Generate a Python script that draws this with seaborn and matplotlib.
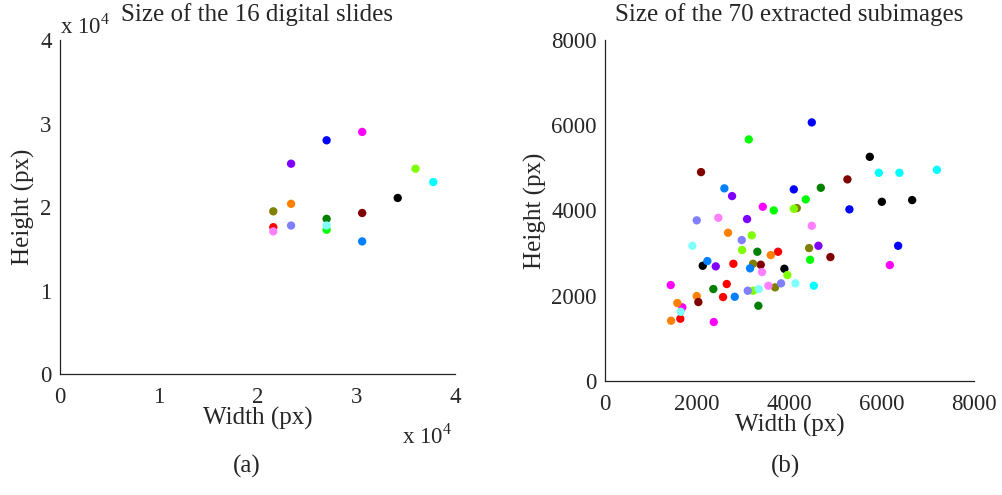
import matplotlib
matplotlib.use("Agg")
import matplotlib.pyplot as plt
from matplotlib.ticker import FuncFormatter
import pandas as pd
import seaborn as sns

# One colour per digital slide (slide ids 1..16)
slide_colors = ["#ff0000", "#0000ff", "#00ff00", "#000000", "#ff00ff", "#00ffff",
                "#ff8000", "#8000ff", "#008000", "#800000", "#808000", "#80ff00",
                "#0080ff", "#ff80ff", "#8080ff", "#80ffff"]
slide_ids = list(range(1, 17))

# Whole-slide dimensions (px)
slide_w = [21600, 27000, 27000, 34200, 30600, 37800, 23400, 23400,
           27000, 30600, 21600, 36000, 30600, 21600, 23400, 27000]
slide_h = [17600, 28000, 17300, 21100, 29000, 23000, 20400, 25200,
           18600, 19300, 19500, 24600, 15900, 17100, 17800, 17800]

# Extracted subimages: source slide, width, height (px)
sub_slide = [1, 1, 1, 1, 1,
             2, 2, 2, 2,
             3, 3, 3, 3,
             4, 4, 4, 4, 4,
             5, 5, 5, 5, 5,
             6, 6, 6, 6,
             7, 7, 7, 7, 7,
             8, 8, 8, 8,
             9, 9, 9, 9,
             10, 10, 10, 10, 10,
             11, 11, 11, 11,
             12, 12, 12, 12, 12,
             13, 13, 13, 13,
             14, 14, 14, 14,
             15, 15, 15, 15,
             16, 16, 16, 16]
sub_w = [3752, 2783, 2640, 2559, 1633,
         4093, 4483, 5299, 6355,
         3117, 3659, 4353, 4446,
         5741, 6002, 6659, 3889, 2119,
         3421, 6175, 1425, 1677, 2358,
         5937, 6383, 7195, 4527,
         2668, 3594, 1989, 1568, 1432,
         2755, 3080, 4627, 2401,
         4679, 3303, 2349, 3325,
         2082, 5256, 4887, 3377, 2024,
         4158, 4425, 3210, 3687,
         4093, 3954, 3182, 2972, 3210,
         2588, 2219, 3145, 2813,
         2457, 4483, 3405, 3542,
         1989, 3817, 2965, 3095,
         4128, 1894, 3334, 1642]
sub_h = [3028, 2746, 2270, 1964, 1455,
         4492, 6065, 4023, 3168,
         5666, 3999, 4257, 2840,
         5257, 4201, 4241, 2629, 2699,
         4084, 2715, 2246, 1723, 1378,
         4882, 4882, 4952, 2230,
         3474, 2950, 1988, 1824, 1408,
         4335, 3795, 3168, 2685,
         4530, 3028, 2152, 1760,
         4898, 4727, 2903, 2723, 1847,
         4053, 3114, 2746, 2192,
         4037, 2481, 3413, 3068, 2112,
         4516, 2809, 2638, 1971,
         3826, 3638, 2551, 2230,
         3765, 2286, 3302, 2112,
         2286, 3168, 2152, 1619]

slides = pd.DataFrame({"slide": slide_ids, "w": slide_w, "h": slide_h})
subs = pd.DataFrame({"slide": sub_slide, "w": sub_w, "h": sub_h})
palette = dict(zip(slide_ids, slide_colors))

sns.set_style("white")
plt.rcParams["font.family"] = ["Liberation Serif", "DejaVu Serif"]
plt.rcParams["mathtext.fontset"] = "custom"
plt.rcParams["mathtext.rm"] = "Liberation Serif"

W, H = 1003, 495
fig = plt.figure(figsize=(W / 100, H / 100), dpi=100)


def box(l, t, r, b):
    return [l / W, 1 - b / H, (r - l) / W, (b - t) / H]


ax1 = fig.add_axes(box(60, 40, 455, 374.3))
ax2 = fig.add_axes(box(605, 40, 974, 380.7))

TICK_FS = 16.5
LABEL_FS = 18
dot = 36

sns.scatterplot(data=slides, x="w", y="h", hue="slide", palette=palette,
                legend=False, s=dot, linewidth=0, ax=ax1)
sns.scatterplot(data=subs, x="w", y="h", hue="slide", palette=palette,
                legend=False, s=dot, linewidth=0, ax=ax2)

ax1.set_xlim(0, 40000)
ax1.set_ylim(0, 40000)
ax1.set_xticks([0, 10000, 20000, 30000, 40000])
ax1.set_yticks([0, 10000, 20000, 30000, 40000])
sci = FuncFormatter(lambda v, p: f"{v / 1e4:g}")
ax1.xaxis.set_major_formatter(sci)
ax1.yaxis.set_major_formatter(sci)

ax2.set_xlim(0, 8000)
ax2.set_ylim(0, 8000)
ax2.set_xticks([0, 2000, 4000, 6000, 8000])
ax2.set_yticks([0, 2000, 4000, 6000, 8000])

for ax in (ax1, ax2):
    for side in ("top", "right"):
        ax.spines[side].set_visible(False)
    for side in ("left", "bottom"):
        ax.spines[side].set_color("#222222")
        ax.spines[side].set_linewidth(0.9)
    ax.tick_params(direction="in", length=3.5, width=0.8, color="#222222",
                   labelsize=TICK_FS, pad=6)
    ax.tick_params(axis="x", pad=9.5)
    ax.set_xlabel("Width (px)", fontsize=LABEL_FS, labelpad=-1)

ax1.set_ylabel("Height (px)", fontsize=LABEL_FS, labelpad=4)
ax2.set_ylabel("Height (px)", fontsize=LABEL_FS, labelpad=3)

ax1.set_title("Size of the 16 digital slides", fontsize=LABEL_FS, pad=13.5)
ax2.set_title("Size of the 70 extracted subimages", fontsize=LABEL_FS, pad=13.5)

# Exponent markers for the scaled axes of the slide panel
fig.text(60 / W, 1 - 33 / H, "x 10$^\\mathregular{4}$", fontsize=TICK_FS, va="baseline")
fig.text(402 / W, 1 - 443 / H, "x 10$^\\mathregular{4}$", fontsize=TICK_FS, va="baseline")

fig.text(247 / W, 1 - 473 / H, "(a)", fontsize=LABEL_FS, ha="center", va="baseline")
fig.text(786 / W, 1 - 473 / H, "(b)", fontsize=LABEL_FS, ha="center", va="baseline")

fig.savefig("out.png", dpi=100)
